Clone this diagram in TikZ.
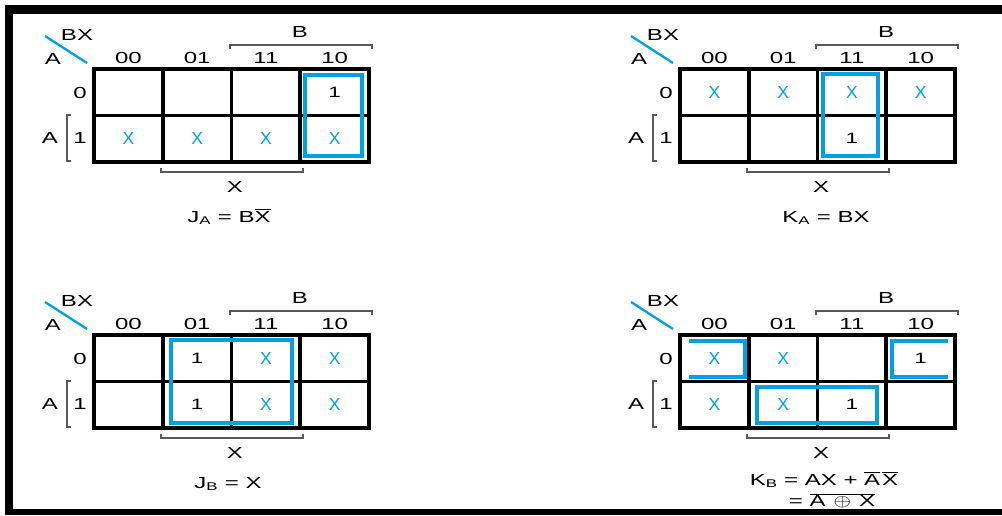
\documentclass[tikz,border=0pt]{standalone}
\usepackage{fontspec}
\setmainfont{Liberation Sans}[FakeStretch=1.5]
\newfontfamily\narrowsf{Liberation Sans}
\usetikzlibrary{positioning}
\definecolor{loopblue}{RGB}{0,160,227}
\definecolor{brkgray}{gray}{0.35}
\newcommand{\ovl}[1]{$\overline{\mbox{#1}}$}

\begin{document}
\begin{tikzpicture}[x=1pt, y=-1pt,
  mapline/.style={line width=3.8pt, line cap=rect},
  loopline/.style={line width=3.4pt, loopblue},
  brk/.style={line width=1.1pt, brkgray},
  lbl/.style={inner sep=0pt, font=\fontsize{16}{19}\selectfont},
  dc/.style={inner sep=0pt, loopblue, font=\narrowsf\fontsize{17.5}{19}\selectfont},
  one/.style={inner sep=0pt, font=\fontsize{15}{19}\selectfont},
  formula/.style={inner sep=0pt, anchor=base, font=\fontsize{16}{19}\selectfont}]
  \useasboundingbox (0,0) rectangle (1002,515);
  % page frame
  \fill (5,5) rectangle (1002,14);
  \fill (5,5) rectangle (13,515);
  \fill (5,509) rectangle (1002,515);
  % the four map frames
  \foreach \mx/\my/\m in {94/69/ja, 680/69/ka, 94/335/jb, 680/335/kb} {
    \begin{scope}[shift={(\mx,\my)}]
      \draw[mapline] (0,0) rectangle (275,93);
      \foreach \c in {1,2,3} \draw[mapline] (\c*68.75,0) -- (\c*68.75,93);
      \draw[mapline] (0,46.5) -- (275,46.5);
      \draw[loopblue, line width=2.3pt] (-49,-33) -- (-7,-6);
      \node[lbl] (\m-bx) at (-17,-34) {BX};
      \node[lbl] (\m-a) at (-41,-10) {A};
      \node[lbl] (\m-b) at (206,-37) {B};
      \draw[brk] (136,-20) -- (136,-24) -- (278,-24) -- (278,-20);
      \node[lbl] (\m-r0) at (-14,24) {0};
      \node[lbl] (\m-r1) at (-14,69) {1};
      \node[lbl] (\m-ra) at (-44,69) {A};
      \draw[brk] (-23,46) -- (-27,46) -- (-27,92) -- (-23,92);
      \draw[brk] (67,99) -- (67,103) -- (209,103) -- (209,99);
      \node[lbl] (\m-x) at (141,118) {X};
      \foreach \i/\lab in {0/00, 1/01, 2/11, 3/10} {
        \node[lbl] (\m-c\i) at (34.4+68.75*\i,-11) {\lab};
        \coordinate (\m-\i0) at (34.4+68.75*\i,23.25);
        \coordinate (\m-\i1) at (34.4+68.75*\i,69.75);
      }
    \end{scope}
  }
  % J_A
  \foreach \c in {0,1,2,3} \node[dc] (ja-d\c) at (ja-\c1) {X};
  \node[one] (ja-one) at (ja-30) {1};
  \draw[loopline, shift={(94,69)}] (211,6) rectangle (268,87);
  \node[formula] (ja-eq) at (229,222) {J\textsubscript{A} = B\ovl{X}};
  % K_A
  \foreach \c in {0,1,2,3} \node[dc] (ka-d\c) at (ka-\c0) {X};
  \node[one] (ka-one) at (ka-21) {1};
  \draw[loopline, shift={(680,69)}] (143,5) rectangle (198,87);
  \node[formula] (ka-eq) at (826,222) {K\textsubscript{A} = BX};
  % J_B
  \foreach \c in {2,3} {
    \node[dc] (jb-d\c0) at (jb-\c0) {X};
    \node[dc] (jb-d\c1) at (jb-\c1) {X};
  }
  \node[one] (jb-one0) at (jb-10) {1};
  \node[one] (jb-one1) at (jb-11) {1};
  \draw[loopline, shift={(94,335)}] (77,5) rectangle (198,88);
  \node[formula] (jb-eq) at (228,488) {J\textsubscript{B} = X};
  % K_B
  \node[dc] (kb-d00) at (kb-00) {X};
  \node[dc] (kb-d10) at (kb-10) {X};
  \node[dc] (kb-d01) at (kb-01) {X};
  \node[dc] (kb-d11) at (kb-11) {X};
  \node[one] (kb-one0) at (kb-30) {1};
  \node[one] (kb-one1) at (kb-21) {1};
  \begin{scope}[shift={(680,335)}]
    \draw[loopline] (9,6) -- (65,6) -- (65,42) -- (9,42);
    \draw[loopline] (268,6) -- (212,6) -- (212,42) -- (268,42);
    \draw[loopline] (77,52) rectangle (197,88);
  \end{scope}
  \node[formula] (kb-eq) at (824,485) {K\textsubscript{B} = AX + \ovl{A}\kern2pt\ovl{X}};
  \node[formula] (kb-eq2) at (832,506.5)
    {= $\overline{\mbox{A\enspace\scalebox{1.3}[1]{$\oplus$}\enspace X}}$};
\end{tikzpicture}
\end{document}
